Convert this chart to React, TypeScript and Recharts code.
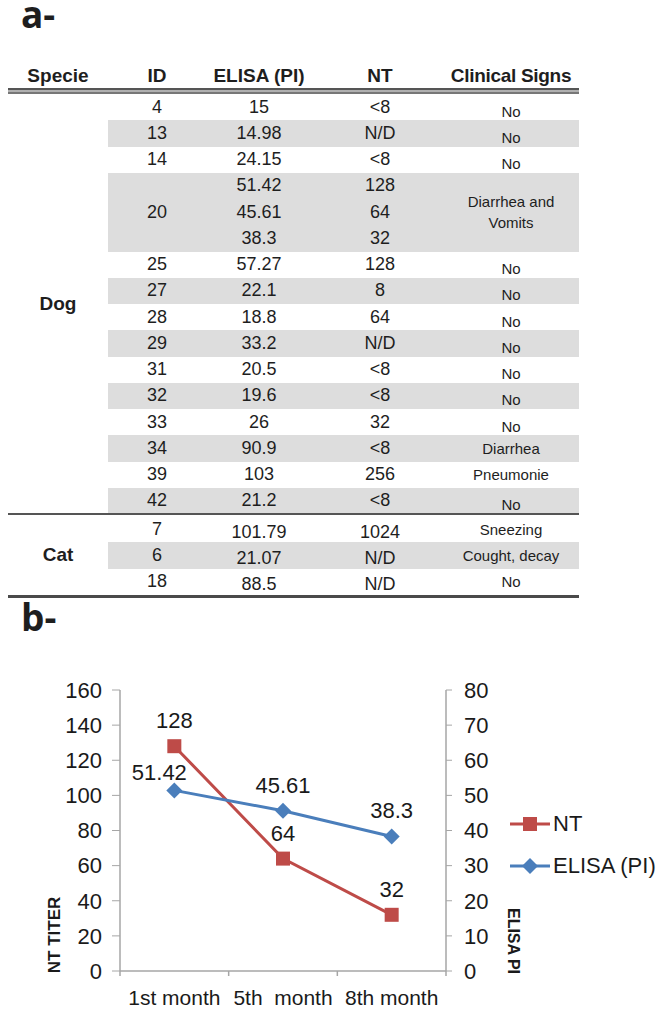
import React from 'react';
import { LineChart, Line, XAxis, YAxis, Legend, LabelList } from 'recharts';

// ---- table (a-) ----
const dogIds = ['4', '13', '14', '20', '25', '27', '28', '29', '31', '32', '33', '34', '39', '42'];
const dogElisa = [['15'], ['14.98'], ['24.15'], ['51.42', '45.61', '38.3'], ['57.27'], ['22.1'], ['18.8'], ['33.2'], ['20.5'], ['19.6'], ['26'], ['90.9'], ['103'], ['21.2']];
const dogNt = [['<8'], ['N/D'], ['<8'], ['128', '64', '32'], ['128'], ['8'], ['64'], ['N/D'], ['<8'], ['<8'], ['32'], ['<8'], ['256'], ['<8']];
const dogSigns = ['No', 'No', 'No', 'Diarrhea and Vomits', 'No', 'No', 'No', 'No', 'No', 'No', 'No', 'Diarrhea', 'Pneumonie', 'No'];

const catIds = ['7', '6', '18'];
const catElisa = [['101.79'], ['21.07'], ['88.5']];
const catNt = [['1024'], ['N/D'], ['N/D']];
const catSigns = ['Sneezing', 'Cought, decay', 'No'];

const headers = ['Specie', 'ID', 'ELISA (PI)', 'NT', 'Clinical Signs'];

// ---- chart (b-) ----
const months = ['1st month', '5th  month', '8th month'];
const ntTiter = [128, 64, 32];
const elisaPi = [51.42, 45.61, 38.3];
const ntTicks = [0, 20, 40, 60, 80, 100, 120, 140, 160];
const elisaTicks = [0, 10, 20, 30, 40, 50, 60, 70, 80];
const seriesOrder = ['nt', 'elisa'];

const chartData = months.map((m, i) => ({ month: m, nt: ntTiter[i], elisa: elisaPi[i] }));

const RED = '#BE4B48';
const BLUE = '#4A7EBB';
const AXIS = '#A6A6A6';
const FONT = '"Liberation Sans", Arial, sans-serif';

// column boxes [left, right]
const cols = [[8, 108], [108, 206], [206, 312], [312, 448], [448, 574]];
const GRAY_L = 108;
const TABLE_L = 8;
const TABLE_R = 579;
const ROW_H = 26.25;

function cell(col: number, top: number, h: number, content: React.ReactNode, extra: React.CSSProperties = {}) {
  const [l, r] = cols[col];
  return (
    <div
      key={`${col}-${top}`}
      style={{
        position: 'absolute', left: l, width: r - l, top, height: h,
        display: 'flex', alignItems: 'center', justifyContent: 'center', textAlign: 'center',
        ...extra,
      }}
    >
      {content}
    </div>
  );
}

function Block({ top, specie, ids, elisa, nt, signs, shiftNo, shiftVals }: any) {
  let y = top;
  const out: React.ReactNode[] = [];
  ids.forEach((id: string, i: number) => {
    const n = elisa[i].length;
    const h = n * ROW_H;
    if (i % 2 === 1) {
      out.push(<div key={'bg' + i} style={{ position: 'absolute', left: GRAY_L, width: TABLE_R - GRAY_L, top: y, height: h, background: '#DDDDDD' }} />);
    }
    out.push(cell(1, y, h, id, { fontSize: 18 }));
    elisa[i].forEach((v: string, k: number) => out.push(cell(2, y + k * ROW_H + shiftVals, ROW_H, v, { fontSize: 18 })));
    nt[i].forEach((v: string, k: number) => out.push(cell(3, y + k * ROW_H + shiftVals, ROW_H, v, { fontSize: 18 })));
    const s = signs[i];
    out.push(cell(4, y + (shiftNo && s === 'No' ? 4 : 0), h, <span style={{ maxWidth: 100, lineHeight: '21px' }}>{s}</span>, { fontSize: 15 }));
    y += h;
  });
  out.push(cell(0, top, y - top, specie, { fontSize: 19, fontWeight: 700 }));
  return <>{out}</>;
}

function SquareDot({ cx, cy }: any) {
  return <rect x={cx - 7} y={cy - 7} width={14} height={14} fill={RED} />;
}
function DiamondDot({ cx, cy }: any) {
  return <polygon points={`${cx},${cy - 8} ${cx + 8},${cy} ${cx},${cy + 8} ${cx - 8},${cy}`} fill={BLUE} />;
}

// ELISA labels: first one is nudged left/down, as in the original figure
function ElisaLabel(props: any) {
  const vb = props.viewBox || {};
  const x = vb.x ?? props.x;
  const y = vb.y ?? props.y;
  const first = props.index === 0;
  return (
    <text x={x + (first ? -15 : 0)} y={y - (first ? 10 : 18)} textAnchor="middle" fontSize={22} fill="#1a1a1a" fontFamily={FONT}>
      {props.value}
    </text>
  );
}

// plot geometry
const CH_TOP = 660;
const CH_W = 665;
const CH_H = 355;
const PLOT_L = 120;
const PLOT_R = 446;
const BAND = (PLOT_R - PLOT_L) / months.length;

function MonthTick({ x, y, payload, index }: any) {
  const top = y - 9;
  return (
    <g>
      <line x1={x - BAND / 2} x2={x - BAND / 2} y1={top} y2={top + 5} stroke={AXIS} strokeWidth={1.5} />
      {index === months.length - 1 && <line x1={x + BAND / 2} x2={x + BAND / 2} y1={top} y2={top + 5} stroke={AXIS} strokeWidth={1.5} />}
      <text x={x} y={y + 25} textAnchor="middle" fontSize={21} fill="#1a1a1a" fontFamily={FONT} style={{ whiteSpace: 'pre' }}>{payload.value}</text>
    </g>
  );
}

function LegendBox({ payload }: any) {
  const items = [...(payload || [])].sort((a: any, b: any) => seriesOrder.indexOf(a.dataKey) - seriesOrder.indexOf(b.dataKey));
  return (
    <div style={{ fontFamily: FONT }}>
      {items.map((p: any) => (
        <div key={p.value} style={{ display: 'flex', alignItems: 'center', height: 42 }}>
          <svg width={44} height={20}>
            <line x1={2} x2={42} y1={10} y2={10} stroke={p.color} strokeWidth={3} />
            {p.dataKey === 'nt'
              ? <rect x={15} y={3} width={14} height={14} fill={p.color} />
              : <polygon points="22,2 30,10 22,18 14,10" fill={p.color} />}
          </svg>
          <span style={{ fontSize: 22, color: '#1a1a1a', marginLeft: 1 }}>{p.value}</span>
        </div>
      ))}
    </div>
  );
}

const panelLetter: React.CSSProperties = {
  position: 'absolute', left: 21, fontFamily: '"Open Sans", sans-serif', fontWeight: 700, fontSize: 37, lineHeight: '26px',
};

export default function App() {
  const dogTop = 94;
  const dogUnits = dogElisa.reduce((a, e) => a + e.length, 0);
  const sepTop = dogTop + dogUnits * ROW_H;
  const catTop = sepTop + 2;
  const bottomTop = catTop + catIds.length * ROW_H;

  return (
    <div style={{ position: 'absolute', left: 0, top: 0, width: 665, height: 1015, background: '#fff', fontFamily: FONT, color: '#1e1e1e' }}>
      <div style={{ ...panelLetter, top: 1 }}>a-</div>

      {headers.map((h, i) => cell(i, 63, 26, h, { fontSize: 19, fontWeight: 700, whiteSpace: 'nowrap', letterSpacing: i === 4 ? -0.3 : 0 }))}
      <div style={{ position: 'absolute', left: TABLE_L, width: TABLE_R - TABLE_L, top: 88, height: 2, background: '#555' }} />
      <div style={{ position: 'absolute', left: TABLE_L, width: TABLE_R - TABLE_L, top: 90, height: 2, background: '#B0B0B0' }} />
      <div style={{ position: 'absolute', left: TABLE_L, width: TABLE_R - TABLE_L, top: 92, height: 2, background: '#777' }} />

      <Block top={dogTop} specie="Dog" ids={dogIds} elisa={dogElisa} nt={dogNt} signs={dogSigns} shiftNo shiftVals={0} />
      <div style={{ position: 'absolute', left: TABLE_L, width: TABLE_R - TABLE_L, top: sepTop - 1, height: 2, background: '#555' }} />
      <Block top={catTop} specie="Cat" ids={catIds} elisa={catElisa} nt={catNt} signs={catSigns} shiftNo={false} shiftVals={3} />
      <div style={{ position: 'absolute', left: TABLE_L, width: TABLE_R - TABLE_L, top: bottomTop, height: 3, background: '#4a4a4a' }} />

      <div style={{ ...panelLetter, top: 604 }}>b-</div>

      <div style={{ position: 'absolute', left: 0, top: CH_TOP }}>
        <LineChart width={CH_W} height={CH_H} data={chartData} margin={{ top: 30, right: CH_W - PLOT_R - 80, bottom: 4, left: PLOT_L - 80 }}>
          <XAxis
            dataKey="month"
            height={40}
            interval={0}
            padding={{ left: BAND / 2, right: BAND / 2 }}
            tickSize={5}
            tickMargin={4}
            tickLine={false}
            axisLine={{ stroke: AXIS, strokeWidth: 1.5 }}
            tick={<MonthTick />}
          />
          <YAxis
            yAxisId="left"
            width={80}
            domain={[0, 160]}
            ticks={ntTicks}
            interval={0}
            tickSize={8}
            tickMargin={10}
            axisLine={{ stroke: AXIS, strokeWidth: 1.5 }}
            tickLine={{ stroke: AXIS }}
            tick={{ fontSize: 22, fill: '#1a1a1a', fontFamily: FONT }}
            label={{
              content: ({ viewBox }: any) => (
                <text
                  x={54}
                  y={viewBox.y + viewBox.height - 36}
                  transform={`rotate(-90, 54, ${viewBox.y + viewBox.height - 36})`}
                  textAnchor="middle"
                  dominantBaseline="central"
                  fontSize={17}
                  fontWeight={700}
                  fill="#1a1a1a"
                  fontFamily={FONT}
                >NT TITER</text>
              ),
            }}
          />
          <YAxis
            yAxisId="right"
            orientation="right"
            width={80}
            domain={[0, 80]}
            ticks={elisaTicks}
            interval={0}
            tickSize={6}
            tickMargin={12}
            axisLine={{ stroke: AXIS, strokeWidth: 1.5 }}
            tickLine={{ stroke: AXIS }}
            tick={{ fontSize: 22, fill: '#1a1a1a', fontFamily: FONT }}
            label={{
              content: ({ viewBox }: any) => (
                <text
                  x={513}
                  y={viewBox.y + viewBox.height - 30}
                  transform={`rotate(90, 513, ${viewBox.y + viewBox.height - 30})`}
                  textAnchor="middle"
                  dominantBaseline="central"
                  fontSize={16}
                  fontWeight={700}
                  fill="#1a1a1a"
                  fontFamily={FONT}
                >ELISA PI</text>
              ),
            }}
          />
          <Legend
            layout="vertical"
            align="center"
            verticalAlign="middle"
            content={<LegendBox />}
            wrapperStyle={{ left: 508, top: 143, width: 157 }}
          />
          <Line
            yAxisId="left"
            type="linear"
            dataKey="nt"
            name="NT"
            stroke={RED}
            strokeWidth={3}
            dot={<SquareDot />}
            activeDot={false}
            isAnimationActive={false}
          >
            <LabelList dataKey="nt" position="top" offset={18} style={{ fontSize: 22, fill: '#1a1a1a', fontFamily: FONT }} />
          </Line>
          <Line
            yAxisId="right"
            type="linear"
            dataKey="elisa"
            name="ELISA (PI)"
            stroke={BLUE}
            strokeWidth={3}
            dot={<DiamondDot />}
            activeDot={false}
            isAnimationActive={false}
          >
            <LabelList dataKey="elisa" content={<ElisaLabel />} />
          </Line>
        </LineChart>
      </div>
    </div>
  );
}
